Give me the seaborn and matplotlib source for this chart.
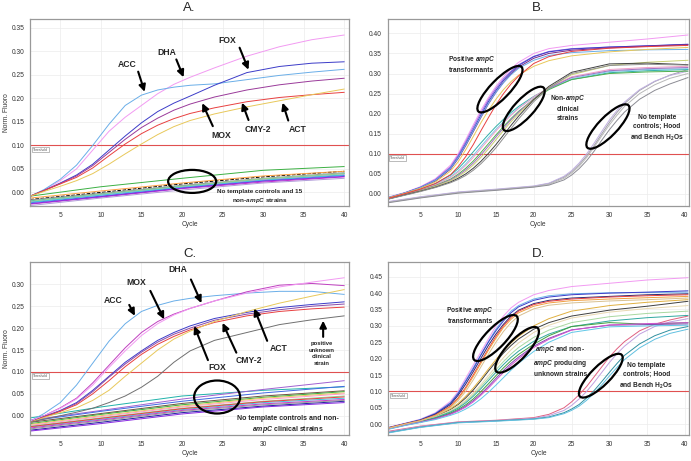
import matplotlib
matplotlib.use("Agg")
import matplotlib.pyplot as plt
import matplotlib.transforms as mtransforms
from matplotlib.patches import Ellipse
import pandas as pd
import seaborn as sns

# ---------------- data ----------------
# panel A: amplification curves of the ampC controls
a_pos_cycles = [1.3, 3, 5, 7, 9, 11, 13, 15, 17, 19, 21, 24, 28, 32, 36, 40]
a_pos_colors = ['#f29af2', '#6aaee8', '#3c3cc8', '#9a3a9a', '#e84040', '#e8c85a']
a_pos_values = [
    [-0.008, 0.005, 0.025, 0.05, 0.09, 0.13, 0.16, 0.185, 0.21, 0.23, 0.245, 0.265, 0.29, 0.31, 0.325, 0.335],
    [-0.008, 0.006, 0.028, 0.058, 0.10, 0.145, 0.185, 0.207, 0.218, 0.224, 0.228, 0.231, 0.24, 0.249, 0.256, 0.262],
    [-0.008, 0.004, 0.02, 0.037, 0.06, 0.09, 0.12, 0.148, 0.172, 0.19, 0.205, 0.228, 0.255, 0.268, 0.275, 0.278],
    [-0.008, 0.004, 0.019, 0.035, 0.057, 0.085, 0.113, 0.138, 0.158, 0.175, 0.188, 0.203, 0.218, 0.229, 0.237, 0.243],
    [-0.008, 0.004, 0.018, 0.032, 0.052, 0.078, 0.103, 0.125, 0.143, 0.157, 0.168, 0.18, 0.193, 0.202, 0.208, 0.213],
    [-0.008, 0.002, 0.013, 0.025, 0.04, 0.06, 0.082, 0.103, 0.123, 0.14, 0.153, 0.167, 0.182, 0.195, 0.208, 0.22],
]
a_neg_cycles = [1.3, 10, 20, 30, 40]
a_neg_colors = ['#3cb043', 'black', '#20b2aa', '#ff99cc', '#ffa040', '#4169e1',
                '#cc33cc', '#b19cd9', '#999999', '#90d890', '#40c0e0', '#8a2be2']
a_neg_values = [
    [-0.008, 0.012, 0.03, 0.047, 0.055],
    [-0.015, 0.0, 0.018, 0.033, 0.045],
    [-0.018, -0.003, 0.014, 0.028, 0.04],
    [-0.02, -0.005, 0.012, 0.027, 0.038],
    [-0.012, 0.003, 0.02, 0.035, 0.045],
    [-0.022, -0.008, 0.01, 0.025, 0.036],
    [-0.025, -0.01, 0.008, 0.022, 0.033],
    [-0.028, -0.012, 0.005, 0.02, 0.03],
    [-0.016, -0.002, 0.015, 0.03, 0.042],
    [-0.019, -0.004, 0.013, 0.029, 0.04],
    [-0.021, -0.006, 0.011, 0.026, 0.037],
    [-0.024, -0.009, 0.009, 0.024, 0.034],
]

# panel B: transformants, non-ampC clinical strains, no template controls
b_pos_cycles = [0.7, 3, 5, 7, 9, 10, 11, 12, 13, 14, 15, 16, 17, 18, 20, 22, 25, 30, 35, 40.4]
b_trans_colors = ['#f29af2', '#9a6ae0', '#3c3cc8', '#7a2a8a', '#6aaee8', '#e8c85a', '#e84040']
b_trans_values = [
    [-0.008, 0.004, 0.018, 0.038, 0.072, 0.1, 0.135, 0.172, 0.208, 0.24, 0.268, 0.292, 0.312, 0.328, 0.35, 0.362, 0.37, 0.378, 0.386, 0.396],
    [-0.009, 0.003, 0.017, 0.036, 0.068, 0.096, 0.13, 0.166, 0.202, 0.235, 0.263, 0.287, 0.306, 0.322, 0.343, 0.355, 0.362, 0.366, 0.369, 0.372],
    [-0.01, 0.003, 0.016, 0.034, 0.065, 0.092, 0.125, 0.16, 0.196, 0.23, 0.258, 0.283, 0.303, 0.32, 0.342, 0.354, 0.361, 0.366, 0.369, 0.373],
    [-0.01, 0.002, 0.015, 0.032, 0.062, 0.088, 0.12, 0.155, 0.19, 0.224, 0.253, 0.278, 0.299, 0.316, 0.338, 0.35, 0.358, 0.364, 0.368, 0.372],
    [-0.009, 0.003, 0.016, 0.034, 0.064, 0.09, 0.122, 0.157, 0.192, 0.225, 0.253, 0.277, 0.297, 0.313, 0.333, 0.345, 0.352, 0.357, 0.359, 0.36],
    [-0.01, 0.002, 0.014, 0.03, 0.057, 0.08, 0.11, 0.143, 0.177, 0.208, 0.236, 0.26, 0.28, 0.296, 0.318, 0.332, 0.344, 0.354, 0.36, 0.365],
    [-0.011, 0.001, 0.012, 0.026, 0.048, 0.068, 0.093, 0.123, 0.157, 0.19, 0.222, 0.25, 0.274, 0.294, 0.325, 0.342, 0.355, 0.363, 0.367, 0.37],
]
b_clin_colors = ['#30b0a8', '#7cc8e8', '#f0a0c8', '#50b050', '#a070c0', '#c8d070', '#404040', '#909090']
b_clin_values = [
    [-0.01, 0.001, 0.012, 0.026, 0.047, 0.063, 0.083, 0.105, 0.127, 0.148, 0.168, 0.186, 0.203, 0.218, 0.243, 0.263, 0.285, 0.302, 0.307, 0.31],
    [-0.011, 0.0, 0.011, 0.024, 0.043, 0.057, 0.075, 0.096, 0.118, 0.14, 0.161, 0.18, 0.198, 0.214, 0.241, 0.262, 0.287, 0.305, 0.31, 0.312],
    [-0.011, 0.0, 0.01, 0.023, 0.041, 0.054, 0.071, 0.091, 0.113, 0.135, 0.157, 0.177, 0.196, 0.213, 0.242, 0.265, 0.292, 0.31, 0.315, 0.318],
    [-0.012, -0.001, 0.009, 0.021, 0.037, 0.049, 0.064, 0.082, 0.103, 0.125, 0.147, 0.168, 0.188, 0.206, 0.236, 0.26, 0.285, 0.3, 0.304, 0.306],
    [-0.012, -0.001, 0.009, 0.02, 0.035, 0.046, 0.06, 0.077, 0.097, 0.119, 0.142, 0.164, 0.185, 0.204, 0.237, 0.263, 0.29, 0.307, 0.312, 0.315],
    [-0.012, -0.002, 0.008, 0.019, 0.033, 0.043, 0.056, 0.072, 0.091, 0.112, 0.135, 0.158, 0.18, 0.2, 0.236, 0.265, 0.297, 0.32, 0.328, 0.333],
    [-0.013, -0.002, 0.007, 0.017, 0.03, 0.039, 0.05, 0.064, 0.081, 0.101, 0.123, 0.147, 0.171, 0.194, 0.235, 0.268, 0.303, 0.324, 0.326, 0.322],
    [-0.013, -0.003, 0.006, 0.016, 0.028, 0.036, 0.046, 0.059, 0.075, 0.094, 0.115, 0.139, 0.163, 0.187, 0.23, 0.264, 0.3, 0.32, 0.323, 0.321],
]
b_ntc_cycles = [0.7, 5, 10, 15, 20, 22, 24, 25, 26, 27, 28, 29, 30, 31, 32, 34, 36, 38, 40.4]
b_ntc_colors = ['#a0a0a8', '#c0b0e0', '#b8b8b8', '#8c8c94']
b_ntc_values = [
    [-0.02, -0.008, 0.004, 0.011, 0.019, 0.026, 0.042, 0.055, 0.073, 0.095, 0.121, 0.15, 0.178, 0.203, 0.225, 0.258, 0.28, 0.296, 0.31],
    [-0.019, -0.007, 0.005, 0.012, 0.02, 0.027, 0.044, 0.058, 0.077, 0.1, 0.127, 0.156, 0.184, 0.208, 0.229, 0.26, 0.281, 0.295, 0.306],
    [-0.021, -0.009, 0.003, 0.01, 0.018, 0.024, 0.039, 0.052, 0.069, 0.091, 0.117, 0.145, 0.172, 0.196, 0.218, 0.25, 0.272, 0.288, 0.3],
    [-0.022, -0.01, 0.002, 0.009, 0.017, 0.022, 0.035, 0.047, 0.063, 0.083, 0.107, 0.134, 0.16, 0.183, 0.204, 0.236, 0.258, 0.274, 0.29],
]

# panel C: controls plus one positive unknown clinical strain
c_pos_cycles = [1.3, 3, 5, 7, 9, 11, 13, 15, 17, 19, 21, 24, 28, 32, 36, 40]
c_pos_colors = ['#6aaee8', '#c040c0', '#f29af2', '#3c3cc8', '#8a4aa8', '#e84040', '#e8c85a', '#707070']
c_pos_values = [
    [-0.012, 0.005, 0.03, 0.07, 0.12, 0.17, 0.21, 0.238, 0.252, 0.262, 0.268, 0.274, 0.28, 0.284, 0.284, 0.277],
    [-0.012, 0.0, 0.018, 0.04, 0.075, 0.115, 0.155, 0.19, 0.215, 0.232, 0.245, 0.262, 0.283, 0.298, 0.302, 0.297],
    [-0.012, 0.0, 0.017, 0.038, 0.07, 0.11, 0.148, 0.183, 0.21, 0.23, 0.245, 0.262, 0.28, 0.294, 0.305, 0.315],
    [-0.015, -0.002, 0.012, 0.03, 0.058, 0.09, 0.122, 0.148, 0.172, 0.19, 0.205, 0.222, 0.236, 0.247, 0.254, 0.26],
    [-0.015, -0.002, 0.011, 0.028, 0.055, 0.088, 0.118, 0.145, 0.168, 0.186, 0.2, 0.218, 0.232, 0.242, 0.25, 0.255],
    [-0.015, -0.003, 0.01, 0.025, 0.05, 0.08, 0.112, 0.14, 0.163, 0.181, 0.196, 0.213, 0.228, 0.238, 0.244, 0.248],
    [-0.015, -0.004, 0.007, 0.018, 0.035, 0.058, 0.09, 0.12, 0.15, 0.175, 0.193, 0.215, 0.238, 0.257, 0.273, 0.288],
    [-0.015, -0.008, 0.0, 0.008, 0.017, 0.03, 0.045, 0.065, 0.09, 0.122, 0.148, 0.172, 0.19, 0.208, 0.219, 0.228],
]
c_neg_cycles = [1.3, 10, 20, 30, 40]
c_neg_colors = ['#20b2aa', '#a060d0', '#4169e1', '#705040', '#3cb043', '#e8c85a', '#ff99cc',
                '#90d890', '#40c0e0', '#cc33cc', '#e84040', '#2020a0', '#8a2be2', '#999999']
c_neg_values = [
    [-0.005, 0.02, 0.045, 0.058, 0.066],
    [-0.01, 0.012, 0.038, 0.06, 0.08],
    [-0.012, 0.01, 0.033, 0.052, 0.067],
    [-0.015, 0.005, 0.028, 0.045, 0.057],
    [-0.018, 0.003, 0.025, 0.042, 0.055],
    [-0.02, 0.0, 0.022, 0.04, 0.052],
    [-0.022, -0.002, 0.02, 0.037, 0.05],
    [-0.024, -0.005, 0.017, 0.033, 0.045],
    [-0.026, -0.008, 0.014, 0.03, 0.04],
    [-0.028, -0.01, 0.012, 0.027, 0.037],
    [-0.025, -0.006, 0.016, 0.032, 0.043],
    [-0.033, -0.015, 0.007, 0.022, 0.033],
    [-0.035, -0.018, 0.004, 0.02, 0.03],
    [-0.03, -0.012, 0.01, 0.025, 0.035],
]

# panel D: transformants, unknown strains, no template controls
d_pos_cycles = [0.7, 3, 5, 7, 9, 10, 11, 12, 13, 14, 15, 16, 17, 18, 20, 22, 25, 30, 35, 40.4]
d_trans_colors = ['#f29af2', '#6aaee8', '#3c3cc8', '#2a2a70', '#e84040', '#f0a040', '#d8c090']
d_trans_values = [
    [-0.01, 0.003, 0.015, 0.035, 0.07, 0.1, 0.14, 0.18, 0.22, 0.26, 0.3, 0.33, 0.355, 0.372, 0.395, 0.408, 0.42, 0.43, 0.44, 0.447],
    [-0.011, 0.002, 0.014, 0.033, 0.066, 0.095, 0.133, 0.172, 0.212, 0.252, 0.29, 0.32, 0.345, 0.362, 0.382, 0.392, 0.398, 0.401, 0.402, 0.403],
    [-0.011, 0.002, 0.013, 0.032, 0.064, 0.093, 0.13, 0.168, 0.21, 0.25, 0.285, 0.315, 0.34, 0.358, 0.378, 0.388, 0.395, 0.4, 0.403, 0.407],
    [-0.012, 0.001, 0.012, 0.03, 0.06, 0.088, 0.122, 0.16, 0.2, 0.24, 0.275, 0.305, 0.33, 0.348, 0.368, 0.378, 0.385, 0.39, 0.395, 0.398],
    [-0.012, 0.001, 0.011, 0.028, 0.055, 0.08, 0.112, 0.15, 0.19, 0.23, 0.268, 0.3, 0.326, 0.345, 0.365, 0.375, 0.382, 0.388, 0.392, 0.395],
    [-0.012, 0.001, 0.011, 0.027, 0.053, 0.077, 0.108, 0.145, 0.185, 0.225, 0.262, 0.295, 0.32, 0.34, 0.36, 0.37, 0.377, 0.382, 0.386, 0.39],
    [-0.013, 0.0, 0.01, 0.025, 0.05, 0.072, 0.1, 0.135, 0.174, 0.213, 0.25, 0.283, 0.31, 0.33, 0.352, 0.363, 0.37, 0.376, 0.38, 0.385],
]
d_unk_colors = ['#404040', '#e0b040', '#e8d8b0', '#a8d8a0', '#30a8a0', '#40a040', '#8050b0', '#d050d0', '#60c8e8']
d_unk_values = [
    [-0.012, 0.0, 0.01, 0.024, 0.045, 0.06, 0.08, 0.104, 0.132, 0.162, 0.19, 0.217, 0.24, 0.26, 0.29, 0.31, 0.33, 0.348, 0.36, 0.375],
    [-0.012, 0.0, 0.011, 0.025, 0.047, 0.063, 0.085, 0.11, 0.138, 0.168, 0.197, 0.224, 0.248, 0.268, 0.3, 0.322, 0.345, 0.362, 0.372, 0.38],
    [-0.013, -0.001, 0.009, 0.022, 0.041, 0.055, 0.073, 0.095, 0.12, 0.148, 0.176, 0.203, 0.227, 0.248, 0.28, 0.302, 0.324, 0.342, 0.353, 0.362],
    [-0.013, -0.001, 0.009, 0.021, 0.039, 0.052, 0.069, 0.09, 0.114, 0.14, 0.166, 0.191, 0.214, 0.234, 0.265, 0.287, 0.31, 0.328, 0.338, 0.345],
    [-0.014, -0.002, 0.008, 0.02, 0.037, 0.049, 0.065, 0.085, 0.108, 0.133, 0.158, 0.182, 0.204, 0.223, 0.253, 0.275, 0.298, 0.315, 0.325, 0.332],
    [-0.014, -0.002, 0.007, 0.018, 0.034, 0.045, 0.059, 0.077, 0.099, 0.123, 0.148, 0.172, 0.194, 0.213, 0.244, 0.27, 0.298, 0.31, 0.305, 0.31],
    [-0.015, -0.003, 0.006, 0.017, 0.032, 0.042, 0.055, 0.072, 0.092, 0.115, 0.14, 0.164, 0.186, 0.205, 0.238, 0.262, 0.288, 0.302, 0.304, 0.306],
    [-0.015, -0.003, 0.006, 0.016, 0.03, 0.04, 0.052, 0.068, 0.088, 0.11, 0.134, 0.158, 0.18, 0.2, 0.234, 0.259, 0.287, 0.303, 0.307, 0.31],
    [-0.016, -0.004, 0.005, 0.014, 0.027, 0.035, 0.046, 0.06, 0.077, 0.097, 0.119, 0.142, 0.165, 0.186, 0.222, 0.25, 0.28, 0.297, 0.3, 0.302],
]
d_ntc_cycles = [0.7, 5, 10, 15, 20, 22, 24, 25, 26, 27, 28, 29, 30, 31, 32, 34, 36, 38, 40.4]
d_ntc_colors = ['#e06080', '#c0a0e0', '#3090a0', '#60c0e0']
d_ntc_values = [
    [-0.022, -0.006, 0.007, 0.012, 0.02, 0.03, 0.05, 0.068, 0.09, 0.115, 0.145, 0.175, 0.205, 0.23, 0.252, 0.285, 0.305, 0.318, 0.33],
    [-0.024, -0.007, 0.006, 0.011, 0.018, 0.026, 0.042, 0.057, 0.077, 0.1, 0.128, 0.158, 0.188, 0.215, 0.238, 0.275, 0.298, 0.312, 0.322],
    [-0.026, -0.009, 0.005, 0.01, 0.016, 0.022, 0.035, 0.046, 0.06, 0.08, 0.103, 0.13, 0.158, 0.185, 0.21, 0.245, 0.27, 0.287, 0.298],
    [-0.027, -0.01, 0.004, 0.009, 0.015, 0.02, 0.032, 0.042, 0.055, 0.073, 0.095, 0.12, 0.147, 0.173, 0.197, 0.233, 0.259, 0.277, 0.29],
]

threshold = 0.10
x_ticks = [5, 10, 15, 20, 25, 30, 35, 40]

# ---------------- styling ----------------
sns.set_theme(style="whitegrid")
plt.rcParams['font.family'] = ['Liberation Sans', 'DejaVu Sans']
plt.rcParams['mathtext.fontset'] = 'custom'
plt.rcParams['mathtext.rm'] = 'Liberation Sans'
plt.rcParams['mathtext.bf'] = 'Liberation Sans:bold'
plt.rcParams['mathtext.bfit'] = 'Liberation Sans:italic:bold'

fig = plt.figure(figsize=(6.91, 4.61), dpi=100)
ax_a = fig.add_axes([0.0438, 0.5531, 0.4612, 0.4056])
ax_b = fig.add_axes([0.5608, 0.5531, 0.4363, 0.4056])
ax_c = fig.add_axes([0.0438, 0.0564, 0.4612, 0.3753])
ax_d = fig.add_axes([0.5619, 0.0564, 0.4352, 0.3753])


def draw_curves(ax, cycles, values, colors, dashed=None):
    for vals, col in zip(values, colors):
        df = pd.DataFrame({'cycle': cycles, 'fluoro': vals})
        ls = '--' if col == dashed else '-'
        sns.lineplot(data=df, x='cycle', y='fluoro', color=col, lw=0.7, ls=ls,
                     estimator=None, sort=False, ax=ax)


def style_panel(ax, title, xlim, ylim, yticks, ylabel, title_pad):
    ax.set_xlim(xlim)
    ax.set_ylim(ylim)
    ax.set_xticks(x_ticks)
    ax.set_yticks(yticks)
    ax.set_yticklabels([f'{v:.2f}' for v in yticks])
    ax.tick_params(length=0, labelsize=4.8, pad=4, colors='#333333')
    ax.grid(color='#ececec', lw=0.5)
    for sp in ax.spines.values():
        sp.set_color('#999999')
        sp.set_linewidth(0.9)
    ax.set_title(title, fontsize=9.5, pad=title_pad)
    ax.set_xlabel('Cycle', fontsize=4.8, labelpad=2, color='#333333')
    ax.set_ylabel(ylabel, fontsize=4.8, labelpad=1.5, color='#333333')
    ax.axhline(threshold, color='#e05050', lw=0.8, zorder=1)
    ax.annotate('Threshold', xy=(0.004, threshold), xycoords=('axes fraction', 'data'),
                xytext=(1, -1.6), textcoords='offset points', ha='left', va='top',
                fontsize=2.4, color='#555555',
                bbox=dict(boxstyle='square,pad=0.25', fc='white', ec='#888888', lw=0.4))


def arrow(ax, tail, tip):
    ax.annotate('', xy=tip, xytext=tail,
                arrowprops=dict(arrowstyle='-|>,head_length=0.45,head_width=0.22',
                                color='black', lw=1.5, mutation_scale=9,
                                shrinkA=0, shrinkB=0))


def ring(ax, center, w_in, h_in, angle):
    tr = fig.dpi_scale_trans + mtransforms.ScaledTranslation(center[0], center[1], ax.transData)
    ax.add_patch(Ellipse((0, 0), w_in, h_in, angle=angle, transform=tr,
                         fill=False, ec='black', lw=1.6, zorder=5))


def label(ax, xy, text, size):
    ax.text(xy[0], xy[1], text, ha='center', va='center', fontsize=size,
            fontweight='bold', linespacing=1.35, zorder=6)


# ---------------- panel A ----------------
draw_curves(ax_a, a_neg_cycles, a_neg_values, a_neg_colors, dashed='black')
draw_curves(ax_a, a_pos_cycles, a_pos_values, a_pos_colors)
style_panel(ax_a, 'A.', (1.3, 40.58), (-0.029, 0.369),
            [0, 0.05, 0.10, 0.15, 0.20, 0.25, 0.30, 0.35], 'Norm. Fluoro', 5.5)
label(ax_a, (13.2, 0.273), 'ACC', 6.2)
arrow(ax_a, (14.6, 0.257), (15.4, 0.214))
label(ax_a, (18.1, 0.298), 'DHA', 6.2)
arrow(ax_a, (19.3, 0.283), (20.2, 0.245))
label(ax_a, (25.6, 0.324), 'FOX', 6.2)
arrow(ax_a, (27.1, 0.308), (28.2, 0.261))
label(ax_a, (24.9, 0.121), 'MOX', 6.2)
arrow(ax_a, (23.8, 0.141), (22.5, 0.190))
label(ax_a, (29.4, 0.133), 'CMY-2', 6.2)
arrow(ax_a, (28.2, 0.154), (27.4, 0.191))
label(ax_a, (34.3, 0.133), 'ACT', 6.2)
arrow(ax_a, (33.1, 0.153), (32.4, 0.191))
ring(ax_a, (21.25, 0.0234), 0.48, 0.23, 0)
label(ax_a, (29.6, -0.009), 'No template controls and 15\nnon-$\\mathbfit{ampC}$ strains', 4.6)

# ---------------- panel B ----------------
draw_curves(ax_b, b_ntc_cycles, b_ntc_values, b_ntc_colors)
draw_curves(ax_b, b_pos_cycles, b_clin_values, b_clin_colors)
draw_curves(ax_b, b_pos_cycles, b_trans_values, b_trans_colors)
style_panel(ax_b, 'B.', (0.66, 40.53), (-0.030, 0.4357),
            [0, 0.05, 0.10, 0.15, 0.20, 0.25, 0.30, 0.35, 0.40], '', 5.5)
label(ax_b, (11.8, 0.324), 'Positive $\\mathbfit{ampC}$\ntransformants', 4.8)
ring(ax_b, (15.53, 0.261), 0.62, 0.19, 46)
label(ax_b, (24.5, 0.216), 'Non-$\\mathbfit{ampC}$\nclinical\nstrains', 4.8)
ring(ax_b, (18.68, 0.212), 0.58, 0.19, 47)
label(ax_b, (36.25, 0.163), 'No template\ncontrols; Hood\nand Bench H$_\\mathbf{2}$Os', 4.8)
ring(ax_b, (29.81, 0.168), 0.59, 0.19, 46)

# ---------------- panel C ----------------
draw_curves(ax_c, c_neg_cycles, c_neg_values, c_neg_colors)
draw_curves(ax_c, c_pos_cycles, c_pos_values, c_pos_colors)
style_panel(ax_c, 'C.', (1.3, 40.58), (-0.044, 0.351),
            [0, 0.05, 0.10, 0.15, 0.20, 0.25, 0.30], 'Norm. Fluoro', 3.5)
label(ax_c, (11.5, 0.262), 'ACC', 6.2)
arrow(ax_c, (13.5, 0.253), (14.2, 0.228))
label(ax_c, (14.4, 0.305), 'MOX', 6.2)
arrow(ax_c, (16.1, 0.285), (17.8, 0.220))
label(ax_c, (19.5, 0.333), 'DHA', 6.2)
arrow(ax_c, (21.1, 0.311), (22.4, 0.257))
label(ax_c, (24.3, 0.110), 'FOX', 6.2)
arrow(ax_c, (23.2, 0.127), (21.5, 0.205))
label(ax_c, (28.3, 0.127), 'CMY-2', 6.2)
arrow(ax_c, (26.7, 0.144), (25.0, 0.212))
label(ax_c, (31.9, 0.154), 'ACT', 6.2)
arrow(ax_c, (30.5, 0.171), (28.9, 0.245))
label(ax_c, (37.2, 0.142), 'positive\nunknown\nclinical\nstrain', 4.2)
arrow(ax_c, (37.4, 0.180), (37.4, 0.217))
ring(ax_c, (24.33, 0.0427), 0.46, 0.33, 0)
label(ax_c, (33.1, -0.021), 'No template controls and non-\n$\\mathbfit{ampC}$ clinical strains', 5.0)

# ---------------- panel D ----------------
draw_curves(ax_d, d_ntc_cycles, d_ntc_values, d_ntc_colors)
draw_curves(ax_d, d_pos_cycles, d_unk_values, d_unk_colors)
draw_curves(ax_d, d_pos_cycles, d_trans_values, d_trans_colors)
style_panel(ax_d, 'D.', (0.77, 40.53), (-0.033, 0.495),
            [0, 0.05, 0.10, 0.15, 0.20, 0.25, 0.30, 0.35, 0.40, 0.45], '', 3.5)
label(ax_d, (11.6, 0.333), 'Positive $\\mathbfit{ampC}$\ntransformants', 4.8)
ring(ax_d, (14.94, 0.263), 0.61, 0.2, 46)
label(ax_d, (23.5, 0.193), '$\\mathbfit{ampC}$ and non-\n$\\mathbfit{ampC}$ producing\nunknown strains', 4.8)
ring(ax_d, (17.80, 0.227), 0.60, 0.2, 46.6)
label(ax_d, (34.9, 0.145), 'No template\ncontrols; Hood\nand Bench H$_\\mathbf{2}$Os', 4.8)
ring(ax_d, (28.87, 0.148), 0.59, 0.19, 45)

fig.savefig('out.png', dpi=100)
